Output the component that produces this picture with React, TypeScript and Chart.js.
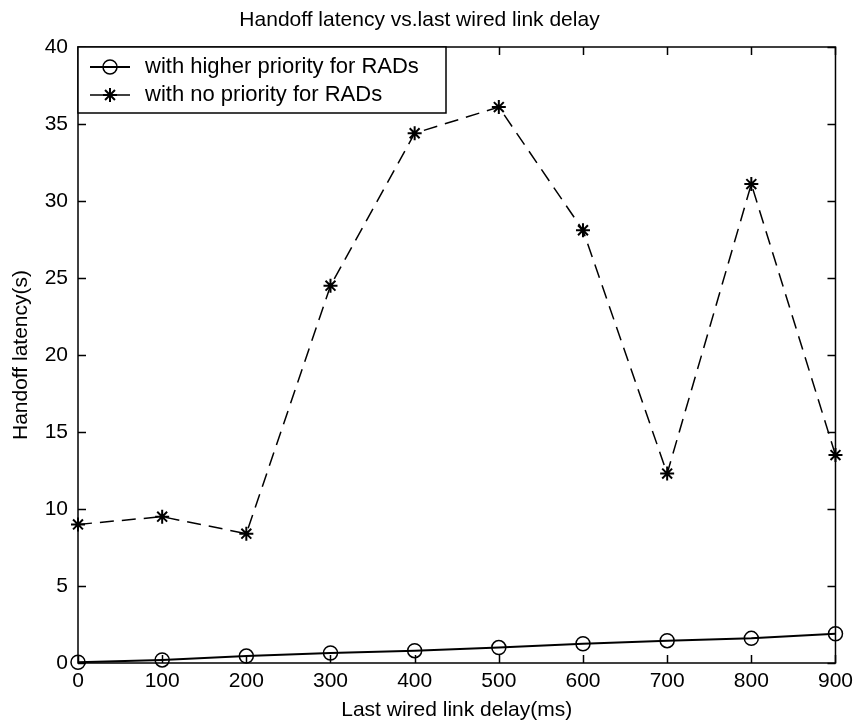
import { useEffect, useRef } from "react";
import { Chart, registerables } from "chart.js";

Chart.register(...registerables);

const delaysMs = [0, 100, 200, 300, 400, 500, 600, 700, 800, 900];
const higherPriority = [0.05, 0.2, 0.45, 0.65, 0.8, 1.0, 1.25, 1.45, 1.6, 1.9];
const noPriority = [9.0, 9.5, 8.4, 24.5, 34.4, 36.1, 28.1, 12.3, 31.1, 13.5];
const seriesLabels = ["with higher priority for RADs", "with no priority for RADs"];
const titleText = "Handoff latency vs.last wired link delay";
const xLabel = "Last wired link delay(ms)";
const yLabel = "Handoff latency(s)";
const xRange = [0, 900, 100];
const yRange = [0, 40, 5];

const FONT = "'Liberation Sans', Arial, Helvetica, sans-serif";

function drawMarker(ctx: CanvasRenderingContext2D, style: string, x: number, y: number, r: number) {
  ctx.beginPath();
  if (style === "circle") {
    ctx.arc(x, y, r, 0, Math.PI * 2);
    ctx.stroke();
  } else {
    for (let k = 0; k < 4; k++) {
      const a = (k * Math.PI) / 4;
      ctx.moveTo(x + Math.cos(a) * r, y + Math.sin(a) * r);
      ctx.lineTo(x - Math.cos(a) * r, y - Math.sin(a) * r);
    }
    ctx.stroke();
  }
}

const boxPlugin = {
  id: "matlabBox",
  afterDraw(chart: any) {
    const { ctx, chartArea } = chart;
    const { left, right, top, bottom } = chartArea;
    const xs = chart.scales.x;
    const ys = chart.scales.y;
    const tl = 8;
    ctx.save();
    ctx.strokeStyle = "#000";
    ctx.lineWidth = 1.5;
    ctx.beginPath();
    xs.ticks.forEach((t: any) => {
      const px = Math.round(xs.getPixelForValue(t.value)) + 0.5;
      ctx.moveTo(px, bottom);
      ctx.lineTo(px, bottom - tl);
      ctx.moveTo(px, top);
      ctx.lineTo(px, top + tl);
    });
    ys.ticks.forEach((t: any) => {
      const py = Math.round(ys.getPixelForValue(t.value)) + 0.5;
      ctx.moveTo(left, py);
      ctx.lineTo(left + tl, py);
      ctx.moveTo(right, py);
      ctx.lineTo(right - tl, py);
    });
    ctx.stroke();
    ctx.strokeRect(left, top, right - left, bottom - top);

    // legend box (top-left, inside plot)
    const bx = left;
    const by = top;
    const bw = 368;
    const bh = 66;
    ctx.fillStyle = "#fff";
    ctx.fillRect(bx, by, bw, bh);
    ctx.lineWidth = 1.5;
    ctx.strokeRect(bx, by, bw, bh);
    const rows = [by + 20, by + 48];
    chart.data.datasets.forEach((ds: any, i: number) => {
      const y = rows[i];
      ctx.save();
      ctx.strokeStyle = ds.borderColor;
      ctx.lineWidth = ds.borderWidth;
      ctx.setLineDash([]);
      ctx.beginPath();
      ctx.moveTo(bx + 12, y);
      ctx.lineTo(bx + 52, y);
      ctx.stroke();
      ctx.restore();
      ctx.save();
      ctx.strokeStyle = ds.pointBorderColor;
      ctx.fillStyle = ds.pointBackgroundColor;
      ctx.lineWidth = ds.pointBorderWidth;
      drawMarker(ctx, ds.pointStyle, bx + 32, y, ds.pointRadius);
      ctx.restore();
      ctx.fillStyle = "#000";
      ctx.font = `22px ${FONT}`;
      ctx.textAlign = "left";
      ctx.textBaseline = "middle";
      ctx.fillText(ds.label, bx + 67, y);
    });
    ctx.restore();
  },
};

export default function App() {
  const ref = useRef<HTMLCanvasElement | null>(null);

  useEffect(() => {
    if (!ref.current) return;
    const chart = new Chart(ref.current, {
      type: "line",
      data: {
        datasets: [
          {
            label: seriesLabels[0],
            data: delaysMs.map((x, i) => ({ x, y: higherPriority[i] })),
            borderColor: "#000",
            borderWidth: 2,
            pointStyle: "circle",
            pointRadius: 7,
            pointBorderWidth: 1.5,
            pointBorderColor: "#000",
            pointBackgroundColor: "rgba(0,0,0,0)",
            tension: 0,
            fill: false,
            clip: false as any,
          },
          {
            label: seriesLabels[1],
            data: delaysMs.map((x, i) => ({ x, y: noPriority[i] })),
            borderColor: "#000",
            borderWidth: 1.5,
            borderDash: [14, 8],
            pointStyle: "star",
            pointRadius: 7,
            pointBorderWidth: 2,
            pointBorderColor: "#000",
            pointBackgroundColor: "#000",
            tension: 0,
            fill: false,
            clip: false as any,
          },
        ],
      },
      options: {
        responsive: false,
        animation: false,
        devicePixelRatio: 1,
        layout: { padding: { left: 0, right: 20, top: 0, bottom: 0 } },
        plugins: {
          legend: { display: false },
          tooltip: { enabled: false },
          title: {
            display: true,
            text: titleText,
            color: "#000",
            font: { family: FONT, size: 21, weight: "normal" },
            padding: { top: 8, bottom: 13.8 },
          },
        },
        scales: {
          x: {
            type: "linear",
            min: xRange[0],
            max: xRange[1],
            afterFit: (s: any) => {
              s.height = 64;
            },
            ticks: {
              stepSize: xRange[2],
              color: "#000",
              font: { family: FONT, size: 21 },
              padding: 6,
              maxRotation: 0,
            },
            grid: { display: false, drawTicks: false },
            border: { display: false },
            title: {
              display: true,
              text: xLabel,
              color: "#000",
              font: { family: FONT, size: 21 },
              padding: { top: 0, bottom: 4 },
            },
          },
          y: {
            type: "linear",
            min: yRange[0],
            max: yRange[1],
            afterFit: (s: any) => {
              s.width = 78;
            },
            ticks: {
              stepSize: yRange[2],
              color: "#000",
              font: { family: FONT, size: 21 },
              padding: 10,
            },
            grid: { display: false, drawTicks: false },
            border: { display: false },
            title: {
              display: true,
              text: yLabel,
              color: "#000",
              font: { family: FONT, size: 21 },
              padding: { top: 9, bottom: 0 },
            },
          },
        },
      },
      plugins: [boxPlugin],
    });
    return () => chart.destroy();
  }, []);

  return (
    <div style={{ position: "absolute", left: 0, top: 0, width: 859, height: 727, background: "#fff" }}>
      <canvas ref={ref} width={859} height={727} style={{ display: "block" }} />
    </div>
  );
}
